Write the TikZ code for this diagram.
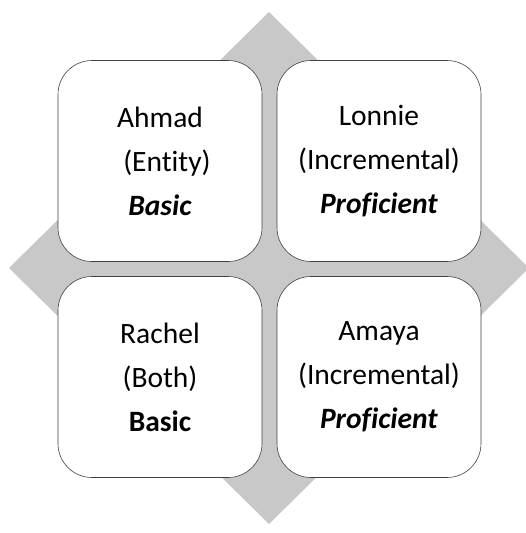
\documentclass[tikz,border=0pt]{standalone}
\usepackage{fontspec}
\setmainfont[Ligatures=NoCommon]{Carlito}
\usepackage{tikz}
\usetikzlibrary{positioning}
\definecolor{mygray}{RGB}{200,200,200}
\definecolor{myedge}{RGB}{64,64,64}
\tikzset{
  quad/.style={rectangle, draw=myedge, fill=white,
    minimum width=204pt, minimum height=201pt, align=center,
    font=\fontsize{29.5}{44}\selectfont, rounded corners=34pt, line width=0.6pt},
  backdiamond/.style={fill=mygray}
}

\begin{document}
\begin{tikzpicture}[x=1pt, y=-1pt]
\useasboundingbox (0,0) rectangle (525,533);

%--- BACKGROUND DIAMOND ---
\fill[backdiamond] (269,12) -- (529,268) -- (269,524) -- (9,268) -- cycle;

%--- FOUR QUADRANTS ---
\node[quad] (ahmad) at (160,161) {Ahmad\\\hspace*{14pt}(Entity)\\\textbf{\textit{Basic}}};
\node[quad] (lonnie) at (379,161) {Lonnie\\(Incremental)\\\textbf{\textit{Proficient}}};
\node[quad] (rachel) at (160,377) {Rachel\\(Both)\\\textbf{Basic}};
\node[quad] (amaya) at (379,377) {Amaya\\(Incremental)\\\textbf{\textit{Proficient}}};
\end{tikzpicture}
\end{document}
